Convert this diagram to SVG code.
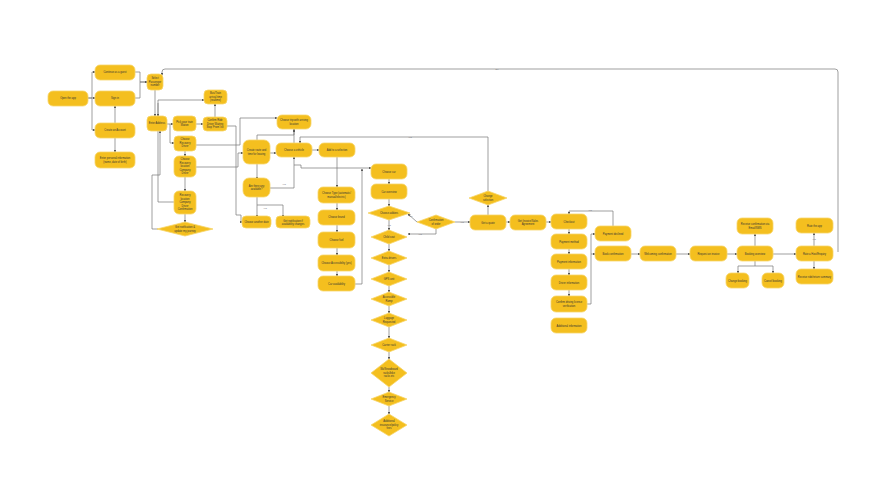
<svg xmlns="http://www.w3.org/2000/svg" width="895" height="498" viewBox="0 0 895 498">
<defs>
<marker id="a" viewBox="0 0 6 6" refX="5" refY="3" markerWidth="4" markerHeight="4" orient="auto"><path d="M0,0L6,3L0,6z" fill="#555"/></marker>
<style>
.n{fill:#F4BF1F;stroke:#F8D66A;stroke-width:0.8}
text{font-family:"Liberation Sans",Arial,sans-serif;font-size:2.6px;fill:#333;text-anchor:middle}
.c path{fill:none;stroke:#777;stroke-width:0.7;marker-end:url(#a)}
.l{font-size:2.2px;fill:#666}
</style>
</defs>
<rect width="895" height="498" fill="#fff"/>
<g class="c">
<path d="M88,98H92V72H95"/><path d="M88,98H95"/><path d="M92,98V130H95"/>
<path d="M115,123V106"/><path d="M115,138V152"/>
<path d="M135,72H140V82H147"/><path d="M135,98H140V82H147"/>
<path d="M838,252V72Q838,69 835,69H165Q162,69 162,72V75"/>
<path d="M155,90V116"/>
<path d="M167,124H173"/><path d="M196,124H203"/><path d="M215,117V104"/>
<path d="M170,124V143H174"/><path d="M185,150V156"/><path d="M185,177V191"/><path d="M185,214V222"/>
<path d="M174,202H158V100H204"/><path d="M158,103V116"/>
<path d="M158,229H152V175H160V131"/>
<path d="M196,145H240V118H277"/><path d="M196,167H238V153H243"/>
<path d="M227,126H236V215H241V222H242"/>
<path d="M270,153H276"/><path d="M312,150H319"/><path d="M294,143V129"/>
<path d="M257,164V179"/><path d="M257,197V217"/><path d="M257,205H283V217"/>
<path d="M270,188H294V157"/><path d="M294,165H301V168H371"/>
<path d="M257,141V135H294V130"/>
<path d="M337,157V187"/><path d="M337,203V210"/><path d="M337,225V232"/><path d="M337,248V255"/><path d="M337,271V276"/>
<path d="M355,284H362V169"/>
<path d="M389,179V184"/><path d="M389,199V206"/><path d="M389,220V230"/><path d="M389,244V251"/><path d="M389,265V272"/><path d="M389,286V292"/><path d="M389,306V313"/><path d="M389,327V338"/><path d="M389,352V359"/><path d="M389,387V392"/><path d="M389,406V414"/>
<path d="M417,222L408,214"/><path d="M436,229V234H408"/>
<path d="M455,222H470"/><path d="M488,215V205"/><path d="M488,191V137H300V143"/>
<path d="M506,222H510"/><path d="M546,222H551"/>
<path d="M569,229V234"/><path d="M569,249V254"/><path d="M569,269V275"/><path d="M569,290V296"/>
<path d="M587,304H591V234H595"/><path d="M591,254H595"/>
<path d="M613,226V211H569V214"/>
<path d="M631,254H640"/><path d="M676,254H690"/><path d="M727,254H737"/>
<path d="M755,246V234"/><path d="M755,261V266H738V273"/><path d="M755,266H773V273"/>
<path d="M773,254H796"/><path d="M814,246V233"/><path d="M814,261V269"/>
</g>
<g>
<text class="l" x="497" y="70">No</text><text class="l" x="410" y="138">Yes</text>
<text class="l" x="265" y="209">Yes</text><text class="l" x="284" y="185">Yes</text>
<text class="l" x="462" y="223">Yes</text><text class="l" x="411" y="217">No</text><text class="l" x="420" y="235">Yes</text>
<text class="l" x="389" y="226">Yes</text><text class="l" x="590" y="211">Yes</text><text class="l" x="814" y="240">Yes</text>
</g>
<g id="nodes">
<g id="n1"><rect class="n" x="48" y="91" width="40" height="15" rx="5"/><text x="68" y="99">Open the app</text></g>
<g id="n2"><rect class="n" x="95" y="65" width="40" height="15" rx="5"/><text x="115" y="73">Continue as a guest</text></g>
<g id="n3"><rect class="n" x="95" y="91" width="40" height="15" rx="5"/><text x="115" y="99">Sign in</text></g>
<g id="n4"><rect class="n" x="95" y="123" width="40" height="15" rx="5"/><text x="115" y="131">Create an Account</text></g>
<g id="n5"><rect class="n" x="95" y="152" width="40" height="16" rx="5"/><text x="115" y="159">Enter personal information</text><text x="115" y="162.5">(name, date of birth)</text></g>
<g id="n6"><rect class="n" x="147" y="74" width="16" height="16" rx="4"/><text x="155" y="79">Select</text><text x="155" y="82.5">Passenger</text><text x="155" y="86">number</text></g>
<g id="n7"><rect class="n" x="147" y="116" width="20" height="15" rx="4"/><text x="157" y="124">Enter Address</text></g>
<g id="n8"><rect class="n" x="173" y="116" width="23" height="15" rx="4"/><text x="184.5" y="122.5">Pick your train</text><text x="184.5" y="126">Station</text></g>
<g id="n9"><rect class="n" x="204" y="90" width="23" height="14" rx="4"/><text x="215.5" y="94">Bus/Train</text><text x="215.5" y="97.5">arrival time</text><text x="215.5" y="101">(realtime)</text></g>
<g id="n10"><rect class="n" x="203" y="117" width="24" height="14" rx="4"/><text x="215" y="121">Confirm Ride</text><text x="215" y="124.5">Driver Waiting</text><text x="215" y="128">Stop 'From' list</text></g>
<g id="n11"><rect class="n" x="174" y="136" width="22" height="15" rx="4"/><text x="185" y="140">Choose</text><text x="185" y="143.5">Recovery</text><text x="185" y="147">Driver</text></g>
<g id="n12"><rect class="n" x="174" y="156" width="22" height="21" rx="5"/><text x="185" y="160">Choose</text><text x="185" y="163.5">Recovery</text><text x="185" y="167">location</text><text x="185" y="170.5">Company</text><text x="185" y="174">Driver</text></g>
<g id="n13"><rect class="n" x="174" y="191" width="22" height="23" rx="5"/><text x="185" y="196">Recovery</text><text x="185" y="199.5">location</text><text x="185" y="203">Company</text><text x="185" y="206.5">Driver</text><text x="185" y="210">Confirmation</text></g>
<g id="n14"><path class="n" d="M157,229L185,222L213,229L185,236Z"/><text x="185" y="228">Get notification &amp;</text><text x="185" y="231.5">update my journey</text></g>
<g id="n15"><rect class="n" x="277" y="115" width="34" height="14" rx="5"/><text x="294" y="121">Choose trip with arriving</text><text x="294" y="124.5">location</text></g>
<g id="n16"><rect class="n" x="243" y="140" width="27" height="24" rx="6"/><text x="256.5" y="151">Create route and</text><text x="256.5" y="154.5">time for leaving</text></g>
<g id="n17"><rect class="n" x="276" y="143" width="36" height="14" rx="5"/><text x="294" y="151">Choose a vehicle</text></g>
<g id="n18"><rect class="n" x="319" y="143" width="36" height="14" rx="5"/><text x="337" y="151">Add to a selection</text></g>
<g id="n19"><rect class="n" x="243" y="178" width="27" height="19" rx="6"/><text x="256.5" y="186.5">Are there any</text><text x="256.5" y="190">available?</text></g>
<g id="n20"><rect class="n" x="242" y="216" width="29" height="12" rx="4"/><text x="256.5" y="223">Choose another date</text></g>
<g id="n21"><rect class="n" x="276" y="216" width="34" height="12" rx="4"/><text x="293" y="221.5">Get notification if</text><text x="293" y="225">availability changes</text></g>
<g id="n22"><rect class="n" x="318" y="187" width="37" height="16" rx="5"/><text x="336.5" y="194">Choose Type (automatic/</text><text x="336.5" y="197.5">manual/electric)</text></g>
<g id="n23"><rect class="n" x="318" y="210" width="37" height="15" rx="5"/><text x="336.5" y="218">Choose brand</text></g>
<g id="n24"><rect class="n" x="318" y="232" width="37" height="16" rx="5"/><text x="336.5" y="241">Choose fuel</text></g>
<g id="n25"><rect class="n" x="318" y="255" width="37" height="16" rx="5"/><text x="336.5" y="264">Choose Accessibility (yes)</text></g>
<g id="n26"><rect class="n" x="318" y="276" width="37" height="15" rx="5"/><text x="336.5" y="284.5">Car availability</text></g>
<g id="n27"><rect class="n" x="371" y="164" width="36" height="15" rx="5"/><text x="389" y="172.5">Choose car</text></g>
<g id="n28"><rect class="n" x="371" y="184" width="36" height="15" rx="5"/><text x="389" y="192.5">Car overview</text></g>
<g id="n29"><path class="n" d="M368,213L389,206L410,213L389,220Z"/><text x="389" y="214">Choose addons</text></g>
<g id="n30"><path class="n" d="M371,237L389,230L407,237L389,244Z"/><text x="389" y="238">Child seat</text></g>
<g id="n31"><path class="n" d="M371,258L389,251L407,258L389,265Z"/><text x="389" y="259">Extra drivers</text></g>
<g id="n32"><path class="n" d="M371,279L389,272L407,279L389,286Z"/><text x="389" y="280">GPS unit</text></g>
<g id="n33"><path class="n" d="M371,299L389,292L407,299L389,306Z"/><text x="389" y="298">Accessible</text><text x="389" y="301.5">Ramp</text></g>
<g id="n34"><path class="n" d="M371,320L389,313L407,320L389,327Z"/><text x="389" y="319">Luggage</text><text x="389" y="322.5">Requested</text></g>
<g id="n35"><path class="n" d="M371,345L389,338L407,345L389,352Z"/><text x="389" y="346">Carrier rack</text></g>
<g id="n36"><path class="n" d="M371,373L389,359L407,373L389,387Z"/><text x="389" y="370">Ski/Snowboard</text><text x="389" y="373.5">racks/bike</text><text x="389" y="377">racks etc</text></g>
<g id="n37"><path class="n" d="M371,399L389,392L407,399L389,406Z"/><text x="389" y="398">Emergency</text><text x="389" y="401.5">Service</text></g>
<g id="n38"><path class="n" d="M371,425L389,414L407,425L389,436Z"/><text x="389" y="422">Additional</text><text x="389" y="425.5">insurance/policy</text><text x="389" y="429">fees</text></g>
<g id="n39"><path class="n" d="M417,222L436,215L455,222L436,229Z"/><text x="436" y="221">Confirmation</text><text x="436" y="224.5">of order</text></g>
<g id="n40"><rect class="n" x="470" y="215" width="36" height="15" rx="5"/><text x="488" y="223.5">Get a quote</text></g>
<g id="n41"><path class="n" d="M469,198L488,191L507,198L488,205Z"/><text x="488" y="197">Change</text><text x="488" y="200.5">selection</text></g>
<g id="n42"><rect class="n" x="510" y="215" width="36" height="15" rx="5"/><text x="528" y="221.5">Get Invoice/Sales</text><text x="528" y="225">Agreement</text></g>
<g id="n43"><rect class="n" x="551" y="214" width="36" height="15" rx="5"/><text x="569" y="222.5">Checkout</text></g>
<g id="n44"><rect class="n" x="551" y="234" width="36" height="15" rx="5"/><text x="569" y="242.5">Payment method</text></g>
<g id="n45"><rect class="n" x="551" y="254" width="36" height="15" rx="5"/><text x="569" y="262.5">Payment information</text></g>
<g id="n46"><rect class="n" x="551" y="275" width="36" height="15" rx="5"/><text x="569" y="283.5">Driver information</text></g>
<g id="n47"><rect class="n" x="551" y="296" width="36" height="16" rx="5"/><text x="569" y="303">Confirm driving license</text><text x="569" y="306.5">verification</text></g>
<g id="n48"><rect class="n" x="551" y="318" width="36" height="15" rx="5"/><text x="569" y="326.5">Additional information</text></g>
<g id="n49"><rect class="n" x="595" y="226" width="36" height="15" rx="5"/><text x="613" y="234.5">Payment declined</text></g>
<g id="n50"><rect class="n" x="595" y="246" width="36" height="15" rx="5"/><text x="613" y="254.5">Book confirmation</text></g>
<g id="n51"><rect class="n" x="640" y="246" width="36" height="15" rx="5"/><text x="658" y="254.5">Welcoming confirmation</text></g>
<g id="n52"><rect class="n" x="690" y="246" width="37" height="15" rx="5"/><text x="708.5" y="254.5">Request an invoice</text></g>
<g id="n53"><rect class="n" x="737" y="246" width="36" height="15" rx="5"/><text x="755" y="254.5">Booking overview</text></g>
<g id="n54"><rect class="n" x="737" y="218" width="36" height="16" rx="5"/><text x="755" y="225">Receive confirmation via</text><text x="755" y="228.5">Email/SMS</text></g>
<g id="n55"><rect class="n" x="726" y="273" width="23" height="15" rx="5"/><text x="737.5" y="281.5">Change booking</text></g>
<g id="n56"><rect class="n" x="762" y="273" width="22" height="15" rx="5"/><text x="773" y="281.5">Cancel booking</text></g>
<g id="n57"><rect class="n" x="796" y="218" width="37" height="15" rx="5"/><text x="814.5" y="226.5">Rate the app</text></g>
<g id="n58"><rect class="n" x="796" y="246" width="37" height="15" rx="5"/><text x="814.5" y="254.5">Rate a Host/Enquiry</text></g>
<g id="n59"><rect class="n" x="796" y="269" width="37" height="15" rx="5"/><text x="814.5" y="277.5">Receive ride/return summary</text></g>
</g>
</svg>
